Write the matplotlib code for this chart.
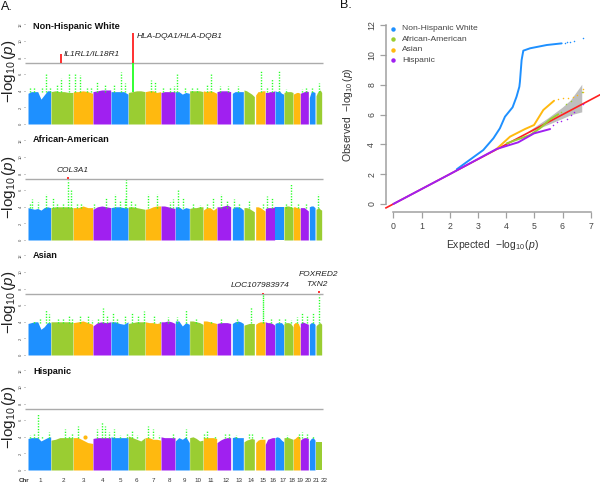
import numpy as np
import matplotlib
matplotlib.use('Agg')
import matplotlib.pyplot as plt

plt.rcParams['font.family'] = ['Liberation Sans', 'DejaVu Sans']
plt.rcParams['mathtext.fontset'] = 'custom'
plt.rcParams['mathtext.rm'] = 'Liberation Sans'
plt.rcParams['mathtext.it'] = 'Liberation Sans:italic'
plt.rcParams['mathtext.default'] = 'regular'

W, H = 600, 483

# Manhattan x positions are read in units of 1/3 pixel
chr_start = [84, 153, 220, 279, 333, 385, 436, 483, 526, 569, 610, 651, 697, 732, 767, 796, 825, 852, 880, 901, 928, 948]
chr_end = [152, 219, 278, 332, 384, 435, 482, 525, 568, 609, 650, 692, 730, 763, 795, 824, 851, 879, 900, 925, 945, 965]
chr_labels = [str(i) for i in range(1, 23)]
chr_label_x = [120, 190, 252, 307, 360, 410, 461, 508, 552, 595, 633, 677, 718, 754, 788, 820, 850, 877, 901, 923, 948, 973]
chr_colors = ['#1E90FF', '#9ACD32', '#FFB90F', '#A020F0']
threshold = 7.3

# top edge of the coloured mass per chromosome
white_tops = [
    [3.7, 3.9, 3.9, 3.9, 3.0, 3.5, 4.0, 4.0], [3.9, 4.0, 3.9, 3.9, 3.8, 3.8], [3.9, 3.9, 4.0, 3.9, 3.7],
    [3.9, 4.0, 4.1, 4.1, 4.1], [3.9, 3.9, 3.9, 3.9, 3.6], [3.8, 3.9, 4.0, 4.0, 3.9], [3.9, 4.0, 4.0, 3.8, 3.9],
    [3.8, 3.9, 3.9, 3.9, 3.9], [3.9, 3.9, 3.6, 3.8, 3.7], [4.0, 4.0, 4.0, 4.0, 3.9], [4.0, 3.9, 4.0, 3.9, 3.7],
    [3.9, 4.0, 4.0, 4.0, 3.9], [3.7, 3.9, 3.9, 3.9, 3.9], [4.1, 4.0, 3.8, 3.6, 3.3], [3.5, 3.9, 3.9, 4.0, 4.0],
    [3.8, 3.8, 3.9, 3.9, 4.0], [4.0, 3.9, 4.0, 3.7, 3.6], [3.8, 3.9, 3.9, 3.9, 3.8], [3.6, 3.7, 3.8, 3.8, 3.7],
    [3.7, 3.8, 3.9, 4.0, 3.9], [3.2, 3.9, 3.9, 3.8], [3.4, 3.8, 4.0, 4.1, 3.8],
]
aa_tops = [
    [3.9, 3.8, 3.7, 3.8, 3.6, 3.9, 4.0, 3.9], [3.9, 4.0, 4.0, 4.0, 4.0, 3.9], [3.9, 3.9, 4.1, 3.9, 3.9],
    [3.7, 4.0, 4.1, 4.0, 3.9], [3.9, 4.0, 4.0, 3.9, 3.9], [4.0, 4.0, 3.9, 3.8, 3.7], [3.7, 3.8, 4.0, 4.1, 4.1],
    [4.1, 4.1, 4.0, 3.9, 3.8], [4.0, 4.0, 3.7, 3.9, 3.8], [3.8, 3.9, 3.9, 4.0, 4.0], [3.6, 3.9, 3.9, 3.6, 3.9],
    [4.0, 4.0, 4.1, 4.2, 4.0], [3.8, 4.0, 4.0, 3.9, 3.6], [3.9, 3.9, 3.8, 3.6, 3.4], [4.0, 4.0, 3.9, 3.7, 3.5],
    [3.8, 3.9, 3.9, 3.9, 4.0], [4.0, 4.0, 4.0, 4.0, 4.0], [4.0, 4.1, 4.1, 4.0, 3.9], [4.0, 4.0, 3.9, 3.9, 3.8],
    [3.9, 3.9, 3.9, 3.7, 3.5], [4.0, 4.1, 4.1, 3.9], [3.7, 3.8, 3.9, 3.7, 3.6],
]
asian_tops = [
    [3.8, 3.9, 4.0, 4.0, 3.1, 3.4, 3.9, 3.9], [4.0, 4.0, 4.0, 4.0, 4.0, 3.9], [3.9, 4.0, 4.1, 3.9, 3.7],
    [3.5, 3.9, 4.0, 3.9, 4.0], [4.0, 4.0, 3.8, 3.7, 4.0], [3.8, 3.9, 4.0, 4.0, 4.0], [4.0, 3.9, 3.9, 3.8, 3.9],
    [4.0, 4.0, 4.1, 4.0, 3.8], [4.1, 4.1, 3.5, 3.9, 3.7], [4.1, 4.1, 4.0, 3.9, 3.7], [4.1, 4.1, 4.0, 3.9, 3.8],
    [3.8, 3.9, 3.9, 3.9, 3.8], [3.8, 4.0, 4.1, 4.0, 3.8], [3.6, 3.7, 3.8, 3.8, 3.8], [3.7, 3.9, 4.0, 4.0, 4.0],
    [4.0, 3.9, 3.9, 3.8, 3.6], [3.8, 3.9, 3.9, 3.9, 3.6], [3.8, 3.9, 3.9, 3.8, 3.4], [3.7, 3.9, 3.9, 3.8, 3.3],
    [3.8, 4.0, 3.9, 3.8, 3.7], [3.7, 3.9, 3.9, 3.7], [3.5, 3.7, 3.8, 3.9, 3.7],
]
hisp_tops = [
    [3.8, 3.9, 3.9, 3.9, 3.5, 3.7, 3.9, 4.0], [3.6, 3.7, 3.9, 3.9, 3.9, 3.9], [3.9, 3.9, 3.6, 3.3, 3.2],
    [3.8, 3.9, 3.9, 3.9, 3.9], [4.0, 3.9, 3.9, 3.9, 3.9], [4.1, 3.9, 3.7, 3.5, 3.9], [3.9, 3.9, 3.7, 3.7, 3.6],
    [4.0, 3.9, 3.9, 3.9, 3.9], [3.5, 3.9, 3.7, 4.0, 3.3], [3.9, 4.0, 3.8, 3.5, 3.6], [3.9, 3.9, 3.9, 3.9, 3.8],
    [3.3, 3.6, 3.8, 3.9, 3.9], [3.9, 4.0, 3.9, 3.9, 3.9], [3.4, 3.6, 3.7, 3.8, 3.7], [3.3, 3.6, 3.7, 3.7, 3.7],
    [3.1, 3.7, 3.8, 3.9, 3.9], [3.9, 4.0, 3.9, 3.6, 3.4], [3.9, 3.9, 3.9, 3.8, 3.7], [3.7, 3.8, 4.0, 4.1, 3.9],
    [3.6, 3.8, 3.9, 3.9, 3.8], [3.5, 3.8, 3.9, 3.6], [3.4, 3.4, 3.4, 3.4, 3.4],
]

# suggestive hits: position, highest value reached
white_hit_x = [90, 103, 125, 137, 150, 172, 183, 207, 225, 241, 260, 272, 290, 315, 343, 364, 376, 452, 464, 488, 510, 522, 530, 555, 575, 590, 620, 632, 660, 685, 714, 782, 802, 816, 837, 858, 905, 918, 937, 957]
white_hit_top = [4.3, 4.4, 4.3, 6.2, 4.4, 4.8, 5.6, 6.0, 6.0, 5.9, 4.3, 4.4, 5.2, 4.7, 4.8, 6.3, 4.9, 5.3, 5.2, 4.5, 4.3, 4.6, 6.0, 4.4, 4.3, 4.4, 4.7, 6.2, 4.6, 4.6, 4.6, 6.4, 4.5, 5.4, 6.4, 4.2, 4.2, 4.3, 4.3, 4.9]
aa_hit_x = [90, 95, 115, 137, 160, 172, 188, 205, 212, 230, 243, 282, 318, 345, 360, 376, 379, 393, 405, 443, 470, 510, 520, 533, 548, 578, 600, 620, 640, 663, 680, 703, 716, 747, 790, 802, 816, 858, 872, 893, 918, 953]
aa_hit_top = [4.4, 5.0, 4.6, 5.5, 5.2, 4.5, 4.4, 7.2, 6.1, 4.4, 4.4, 4.4, 5.1, 5.5, 4.7, 4.9, 7.4, 4.8, 4.5, 5.5, 5.6, 4.6, 4.9, 6.1, 5.1, 4.3, 4.2, 4.3, 5.2, 5.5, 4.7, 5.0, 4.4, 4.8, 4.3, 5.3, 5.1, 4.5, 6.8, 4.3, 4.4, 5.5]
asian_hit_x = [103, 120, 137, 146, 175, 188, 207, 215, 241, 265, 275, 295, 309, 322, 338, 352, 376, 395, 414, 432, 461, 480, 505, 532, 558, 587, 632, 662, 710, 752, 812, 836, 856, 874, 890, 905, 920, 938, 957]
asian_hit_top = [4.1, 4.5, 5.4, 4.9, 4.3, 4.3, 4.7, 4.5, 4.8, 4.7, 4.2, 4.4, 5.7, 4.7, 5.1, 4.5, 4.8, 5.2, 4.7, 5.3, 4.8, 4.1, 4.6, 4.6, 5.4, 4.3, 4.1, 4.3, 4.3, 5.8, 4.3, 4.4, 4.4, 4.2, 4.6, 5.1, 4.8, 5.1, 7.2]
hisp_hit_x = [90, 103, 113, 125, 147, 195, 208, 216, 233, 292, 307, 316, 328, 343, 360, 380, 395, 410, 445, 460, 478, 518, 557, 612, 622, 645, 675, 688, 709, 748, 757, 787, 862, 897, 907, 920, 938]
hisp_hit_top = [4.2, 4.3, 6.7, 4.1, 4.6, 4.9, 4.1, 4.5, 5.3, 5.0, 5.8, 5.3, 4.6, 5.0, 4.2, 4.3, 4.7, 4.2, 5.3, 4.9, 4.2, 4.3, 5.0, 4.3, 4.8, 4.1, 4.3, 4.4, 4.2, 4.3, 4.4, 4.1, 4.2, 4.4, 4.6, 4.3, 4.1]

# genome wide significant segments: position, low, high
white_sig_x, white_sig_lo, white_sig_hi = [183, 398], [7.3, 7.3], [8.4, 11.0]
aa_sig_x, aa_sig_lo, aa_sig_hi = [205], [7.4], [7.6]
asian_sig_x, asian_sig_lo, asian_sig_hi = [790, 957], [7.3, 7.5], [7.5, 7.7]
hisp_sig_x, hisp_sig_lo, hisp_sig_hi = [], [], []

panel_names = ['Non-Hispanic White', 'African-American', 'Asian', 'Hispanic']
panel_zero_px = [124, 240, 355, 470]
panel_title_px = [26.5, 140, 255, 371]
panel_tops = [white_tops, aa_tops, asian_tops, hisp_tops]
panel_hits = [(white_hit_x, white_hit_top), (aa_hit_x, aa_hit_top), (asian_hit_x, asian_hit_top), (hisp_hit_x, hisp_hit_top)]
panel_sig = [(white_sig_x, white_sig_lo, white_sig_hi), (aa_sig_x, aa_sig_lo, aa_sig_hi),
             (asian_sig_x, asian_sig_lo, asian_sig_hi), (hisp_sig_x, hisp_sig_lo, hisp_sig_hi)]

# QQ plot curves, expected vs observed
purple_x = [0, 2.0, 3.66, 4.43, 4.99, 5.56]
purple_y = [0, 2.0, 3.69, 4.14, 4.74, 5.03]
purple_tail_x = [5.68, 5.79, 5.95, 6.15, 6.3, 6.42, 6.71]
purple_tail_y = [5.3, 5.53, 5.6, 5.68, 6.0, 6.15, 6.71]
blue_x = [2.25, 3.19, 3.55, 3.78, 3.96, 4.23, 4.37, 4.47, 4.49, 4.55, 4.61, 4.85, 5.44, 5.97]
blue_y = [2.33, 3.62, 4.41, 5.08, 5.86, 6.49, 7.2, 7.87, 8.2, 9.66, 10.29, 10.45, 10.67, 10.78]
blue_tail_x = [6.08, 6.15, 6.26, 6.42, 6.74]
blue_tail_y = [10.82, 10.85, 10.87, 10.92, 11.14]
orange_x = [3.66, 4.14, 4.67, 4.99, 5.32, 5.7]
orange_y = [3.69, 4.52, 5.03, 5.3, 6.31, 6.93]
orange_tail_x = [5.85, 6.03, 6.2, 6.38, 6.5, 6.71, 6.72]
orange_tail_y = [7.02, 7.09, 7.12, 7.2, 7.3, 7.5, 7.75]
green_x = [4.02, 4.85, 5.2, 5.56, 5.85]
green_y = [4.07, 4.63, 5.08, 5.68, 6.02]
green_tail_x = [5.95, 6.11, 6.3, 6.7]
green_tail_y = [6.2, 6.71, 6.9, 7.49]
ci_x = [4.8, 5.5, 6.0, 6.3, 6.7, 6.7, 6.3, 6.0, 5.5, 4.8]
ci_y = [4.85, 5.75, 6.45, 6.95, 8.0, 6.15, 5.95, 5.7, 5.3, 4.75]
legend_y = [11.75, 11.05, 10.35, 9.65]
legend_colors = ['#1E90FF', '#9ACD32', '#FFB90F', '#A020F0']


def add_px_axes(left, top, right, bottom):
    return fig.add_axes([left / W, 1 - bottom / H, (right - left) / W, (bottom - top) / H])


fig = plt.figure(figsize=(W / 100, H / 100), dpi=100)

for i, name in enumerate(panel_names):
    zero = panel_zero_px[i]
    ax = add_px_axes(0, zero - 8.3 * 12, 330, zero)
    ax.set_xlim(0, 990)
    ax.set_ylim(0, 12)
    ax.patch.set_alpha(0)
    for s in ax.spines.values():
        s.set_visible(False)
    for c in range(22):
        xs = np.linspace(chr_start[c], chr_end[c], len(panel_tops[i][c]))
        ax.fill_between(xs, 0, panel_tops[i][c], color=chr_colors[c % 4], lw=0)
    hx, ht = panel_hits[i]
    ax.vlines(hx, 3.8, ht, color='#22FF22', lw=1.0, linestyles=(0, (0.9, 1.1)))
    ax.hlines(threshold, 76, 970, color='#ABABAB', lw=1.0)
    sx, slo, shi = panel_sig[i]
    if sx:
        ax.vlines(sx, slo, shi, color='#FF2020', lw=1.3)
    if i == 0:
        ax.vlines([398], 3.9, 7.3, color='#22FF22', lw=1.3)
    if i == 2:
        ax.vlines([790], 3.9, 7.3, color='#22FF22', lw=1.0, linestyles=(0, (1, 0.6)))
    if i == 3:
        ax.plot([255], [4.0], 'o', color='#FFB90F', ms=3, mew=0)
    ax.spines['left'].set_position(('data', 74))
    ax.set_yticks(range(0, 13, 2))
    ax.tick_params(axis='y', labelsize=3, length=1, width=0.4, pad=0.5, colors='#444444')
    for t in ax.get_yticklabels():
        t.set_rotation(90)
        t.set_va('center')
    if i == 3:
        ax.set_xticks(chr_label_x, chr_labels)
        ax.tick_params(axis='x', labelsize=4.5, length=0, pad=5.6, colors='#333333')
    else:
        ax.set_xticks([])
    fig.text(33 / W, 1 - panel_title_px[i] / H, name, fontsize=6.6, fontweight='bold',
             color='#111111', va='center', ha='left')
    fig.text(9.5 / W, 1 - (zero - 53) / H, r'$-\log_{10}(\mathit{p})$', fontsize=11, rotation=90,
             ha='center', va='center', color='#222222')

fig.text(24 / W, 1 - 481 / H, 'Chr', fontsize=4.5, ha='center', va='center', color='#333333', fontweight='bold')

gene_labels = [
    ('IL1RL1/IL18R1', 64, 54), ('HLA-DQA1/HLA-DQB1', 137, 36.5), ('COL3A1', 57, 170.5),
    ('LOC107983974', 231, 285.5), ('TXN2', 306, 285), ('FOXRED2', 299, 274.5),
]
for g, gx, gy in gene_labels:
    fig.text(gx / W, 1 - gy / H, g, fontsize=6, style='italic', color='#222222', va='center', ha='left')

fig.text(1 / W, 1 - 7 / H, 'A.', fontsize=9, va='center', color='#111111')
fig.text(340 / W, 1 - 5 / H, 'B.', fontsize=9, va='center', color='#111111')

# QQ plot
qq = add_px_axes(386, 18, 600, 212)
x_unit, y_unit = 28.2, 14.9
qq.set_xlim(-7.3 / x_unit, (600 - 393.3) / x_unit)
qq.set_ylim(-8 / y_unit, (204 - 18) / y_unit)
qq.patch.set_alpha(0)
qq.spines['top'].set_visible(False)
qq.spines['right'].set_visible(False)
for s in ['left', 'bottom']:
    qq.spines[s].set_color('#A0A0A0')
    qq.spines[s].set_linewidth(1.1)
qq.spines['left'].set_bounds(0, 12)
qq.spines['bottom'].set_bounds(0, 7)
qq.set_xticks(range(0, 8))
qq.set_yticks(range(0, 13, 2))
qq.tick_params(axis='both', labelsize=6.3, length=4, width=0.9, color='#A0A0A0', labelcolor='#444444', pad=3)
for t in qq.get_yticklabels():
    t.set_rotation(90)
    t.set_va('center')
qq.fill(ci_x, ci_y, color='#BEBEBE', lw=0)
qq.plot([-0.26, 7.33], [-0.26, 7.33], color='#FF2020', lw=1.2, clip_on=False)
for lx, ly, tx, ty, col in [(blue_x, blue_y, blue_tail_x, blue_tail_y, '#1E90FF'),
                            (orange_x, orange_y, orange_tail_x, orange_tail_y, '#FFB90F'),
                            (green_x, green_y, green_tail_x, green_tail_y, '#9ACD32'),
                            (purple_x, purple_y, purple_tail_x, purple_tail_y, '#A020F0')]:
    qq.plot(lx, ly, color=col, lw=1.4, solid_capstyle='round')
    qq.plot(tx, ty, ls='none', marker='o', ms=1.1, mew=0, color=col)
qq.set_xlabel(r'Expected  $-\log_{10}(\mathit{p})$', fontsize=7.5, color='#333333', labelpad=6)
qq.xaxis.set_label_coords((492 - 386) / 214, -(245 - 212) / 194, transform=qq.transAxes)
qq.xaxis.label.set_va('center')
qq.set_ylabel(r'Observed  $-\log_{10}(\mathit{p})$', fontsize=7.5, color='#333333', labelpad=9)
for ly, col, name in zip(legend_y, legend_colors, panel_names):
    qq.plot([0], [ly], 'o', ms=3.2, mew=0, color=col, clip_on=False)
    qq.text(0.32, ly, name, fontsize=6.1, color='#444444', va='center', ha='left')

fig.savefig('out.png', dpi=100)
